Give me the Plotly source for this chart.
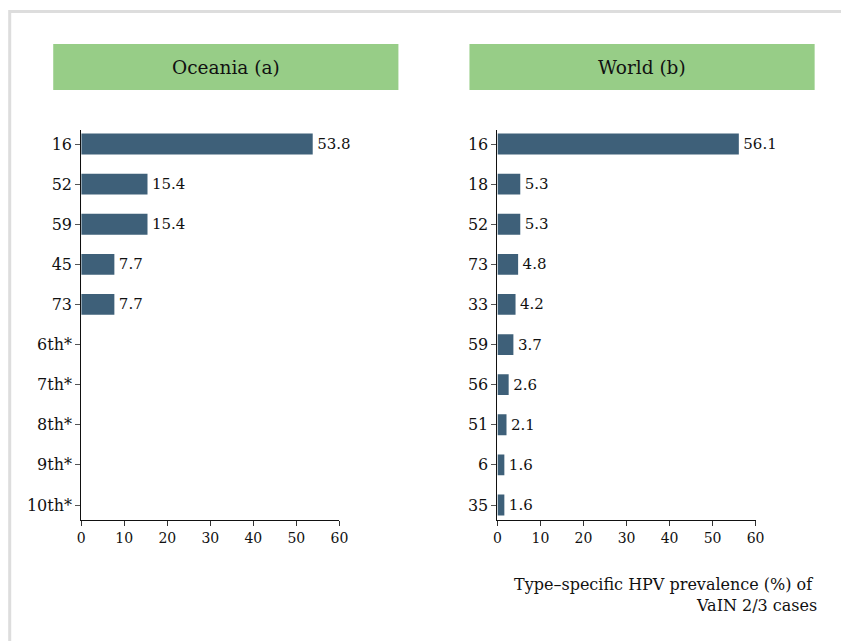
import plotly.graph_objects as go

oceania_types = ["16", "52", "59", "45", "73", "6th*", "7th*", "8th*", "9th*", "10th*"]
oceania_values = [53.8, 15.4, 15.4, 7.7, 7.7, None, None, None, None, None]

world_types = ["16", "18", "52", "73", "33", "59", "56", "51", "6", "35"]
world_values = [56.1, 5.3, 5.3, 4.8, 4.2, 3.7, 2.6, 2.1, 1.6, 1.6]

panel_titles = ["Oceania (a)", "World (b)"]
x_ticks = [0, 10, 20, 30, 40, 50, 60]
x_title = "Type\u2013specific HPV prevalence (%) of\u00a0<br>VaIN 2/3 cases"

W, H = 841, 641
FONT = "DejaVu Serif"
BAR = "#3e6079"
GREEN = "#97cd87"

def px(x):
    # horizontal placement, compensating the slight horizontal squeeze seen in the photo
    return ((x - 3.8) / 0.984) / W

def py(y):
    return 1 - y / H

def fmt(v):
    return "" if v is None else "\u200a" + f"{v:.1f}"

fig = go.Figure()
fig.add_trace(go.Bar(
    x=oceania_values, y=oceania_types, orientation="h",
    marker=dict(color=BAR, line=dict(width=0)), width=0.52,
    text=[fmt(v) for v in oceania_values], textposition="outside",
    textfont=dict(family=FONT, size=15, color="#111"), cliponaxis=False,
    xaxis="x", yaxis="y", showlegend=False, hoverinfo="x+y"))
fig.add_trace(go.Bar(
    x=world_values, y=world_types, orientation="h",
    marker=dict(color=BAR, line=dict(width=0)), width=0.52,
    text=[fmt(v) for v in world_values], textposition="outside",
    textfont=dict(family=FONT, size=15, color="#111"), cliponaxis=False,
    xaxis="x2", yaxis="y2", showlegend=False, hoverinfo="x+y"))

ydom = [py(520), py(130)]
yrange = [9.374, -0.349]
common_x = dict(range=[0, 60], tickvals=x_ticks, showgrid=False, zeroline=False,
                showline=True, linecolor="#111", linewidth=1, ticks="outside",
                ticklen=5, tickcolor="#333", tickfont=dict(family=FONT, size=14, color="#111"),
                fixedrange=True)
common_y = dict(type="category", range=yrange, showgrid=False, zeroline=False,
                showline=True, linecolor="#111", linewidth=1, ticks="outside",
                ticklen=5, tickcolor="#555", tickfont=dict(family=FONT, size=16, color="#111"),
                fixedrange=True)

fig.update_layout(
    width=W, height=H,
    margin=dict(l=0, r=0, t=0, b=0),
    paper_bgcolor="white", plot_bgcolor="white",
    bargap=0.48,
    xaxis=dict(domain=[px(81), px(339)], anchor="y", **common_x),
    yaxis=dict(domain=ydom, anchor="x", categoryorder="array", categoryarray=oceania_types, **common_y),
    xaxis2=dict(domain=[px(497), px(755)], anchor="y2", **common_x),
    yaxis2=dict(domain=ydom, anchor="x2", categoryorder="array", categoryarray=world_types, **common_y),
    shapes=[
        dict(type="rect", xref="paper", yref="paper", x0=px(9.5), x1=px(900), y0=py(700), y1=py(11.5),
             line=dict(color="#dddddd", width=3), fillcolor="rgba(0,0,0,0)", layer="below"),
        dict(type="rect", xref="paper", yref="paper", x0=px(53), x1=px(398), y0=py(90), y1=py(44),
             line=dict(width=0), fillcolor=GREEN, layer="below"),
        dict(type="rect", xref="paper", yref="paper", x0=px(469), x1=px(814), y0=py(90), y1=py(44),
             line=dict(width=0), fillcolor=GREEN, layer="below"),
    ],
    annotations=[
        dict(text=panel_titles[0], xref="paper", yref="paper", x=px(225.5), y=py(67),
             xanchor="center", yanchor="middle", showarrow=False,
             font=dict(family=FONT, size=18.5, color="#111")),
        dict(text=panel_titles[1], xref="paper", yref="paper", x=px(641.5), y=py(67),
             xanchor="center", yanchor="middle", showarrow=False,
             font=dict(family=FONT, size=18.5, color="#111")),
        dict(text=x_title, xref="paper", yref="paper", x=px(818), y=py(595),
             xanchor="right", yanchor="middle", align="right", showarrow=False,
             font=dict(family=FONT, size=16, color="#111")),
    ],
)

fig.write_html("out.html", config={"displayModeBar": False},
               post_script="document.body.style.margin='0';document.body.style.overflow='hidden';")
